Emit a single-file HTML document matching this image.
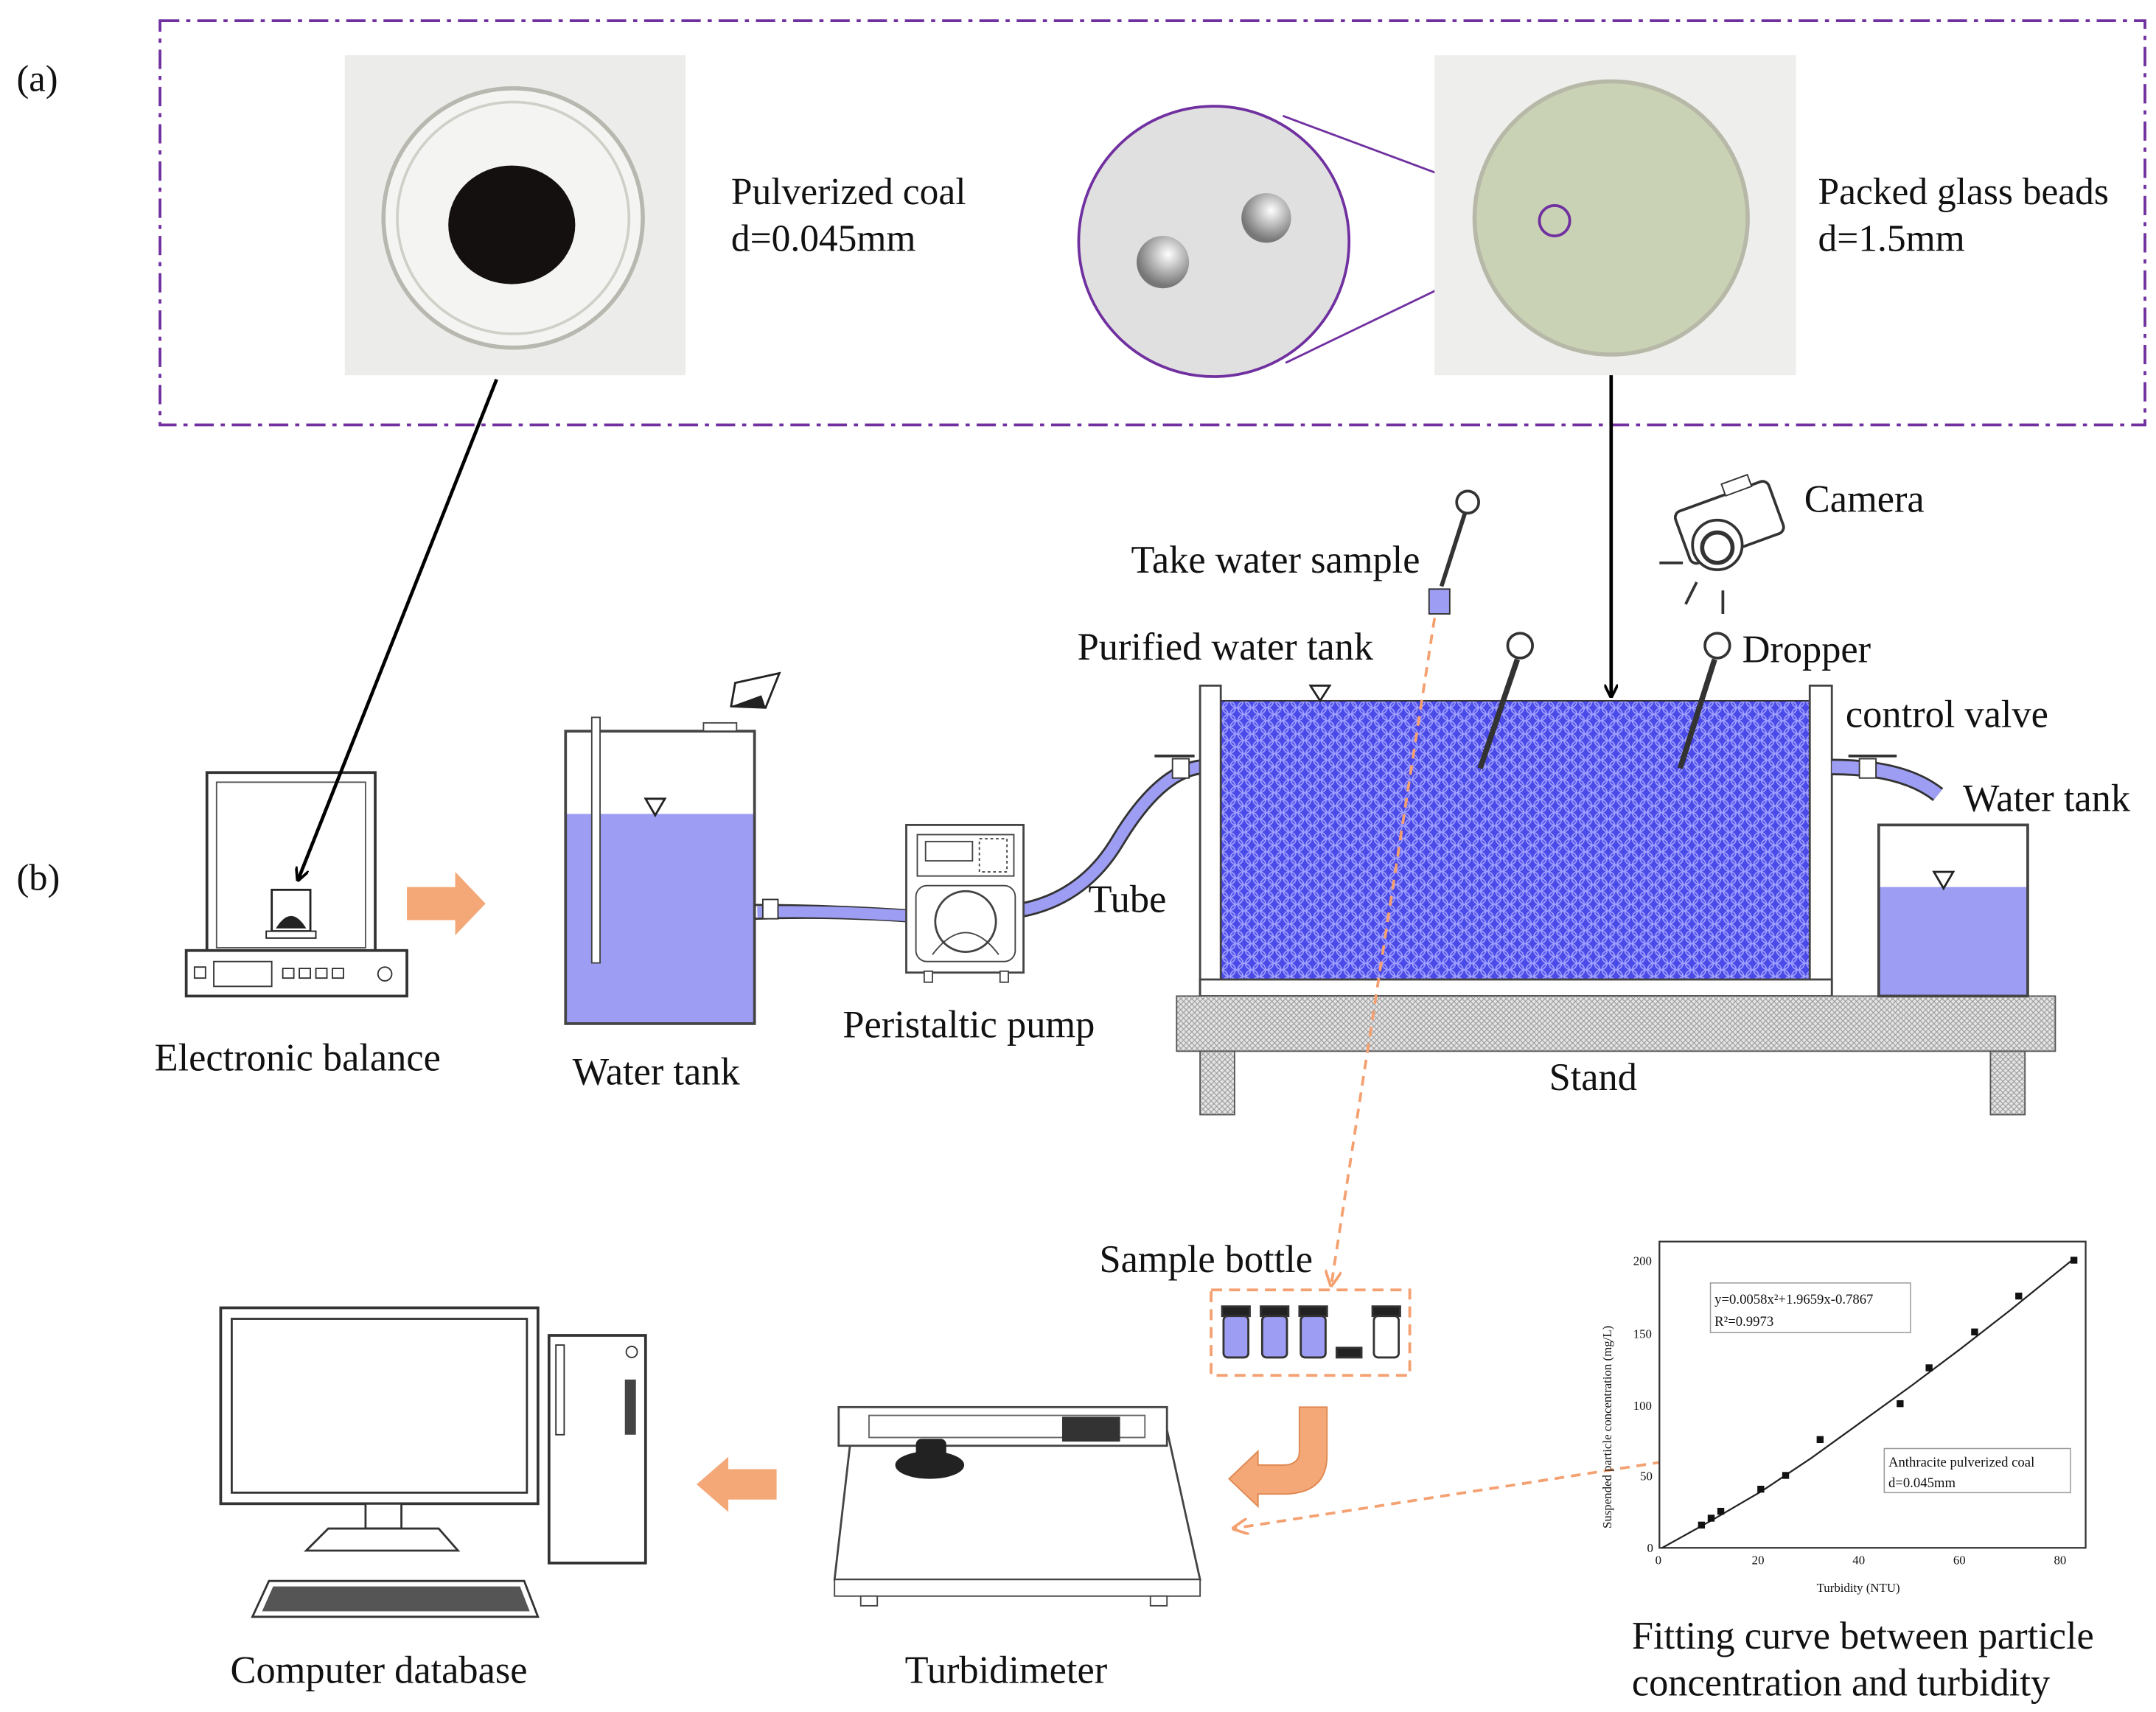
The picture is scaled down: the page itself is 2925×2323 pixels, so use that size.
<!DOCTYPE html>
<html><head><meta charset="utf-8"><style>
html,body{margin:0;padding:0;background:#fff;}
svg{display:block;}
text{font-family:"Liberation Serif",serif;fill:#111;}
</style></head><body>
<svg width="2925" height="2323" viewBox="0 0 1563 1241" preserveAspectRatio="none" xmlns="http://www.w3.org/2000/svg">
<defs>
<pattern id="hex" width="11" height="9.5" patternUnits="userSpaceOnUse">
<rect width="11" height="9.5" fill="#4a4ae8"/>
<circle cx="0" cy="0" r="4.6" fill="none" stroke="#a0a0ff" stroke-width="0.9"/>
<circle cx="11" cy="0" r="4.6" fill="none" stroke="#a0a0ff" stroke-width="0.9"/>
<circle cx="5.5" cy="4.75" r="4.6" fill="none" stroke="#a0a0ff" stroke-width="0.9"/>
<circle cx="0" cy="9.5" r="4.6" fill="none" stroke="#a0a0ff" stroke-width="0.9"/>
<circle cx="11" cy="9.5" r="4.6" fill="none" stroke="#a0a0ff" stroke-width="0.9"/>
</pattern>
<pattern id="hatch" width="4" height="4" patternUnits="userSpaceOnUse">
<rect width="4" height="4" fill="#e4e4e4"/>
<path d="M0 0L4 4M4 0L0 4" stroke="#999" stroke-width="0.6"/>
</pattern>
<marker id="ah" markerWidth="10" markerHeight="10" refX="9" refY="5" orient="auto" markerUnits="userSpaceOnUse"><path d="M0 0L10 5L0 10" fill="none" stroke="#000" stroke-width="2"/></marker>
<marker id="ao" markerWidth="12" markerHeight="12" refX="11" refY="6" orient="auto" markerUnits="userSpaceOnUse"><path d="M0 0L12 6L0 12" fill="none" stroke="#f4a070" stroke-width="2"/></marker>
<radialGradient id="bead" cx="0.6" cy="0.35" r="0.6"><stop offset="0" stop-color="#fff"/><stop offset="1" stop-color="#777"/></radialGradient>
</defs>

<rect x="116" y="15" width="1439" height="293" fill="none" stroke="#7030a0" stroke-width="2" stroke-dasharray="14 5 3 5"/>
<text x="12" y="66" font-size="27">(a)</text>
<text x="12" y="645" font-size="27">(b)</text>

<rect x="250" y="40" width="247" height="232" fill="#ececea"/>
<circle cx="372" cy="158" r="94" fill="#f4f4f2" stroke="#b8b8b0" stroke-width="3"/>
<circle cx="372" cy="158" r="84" fill="none" stroke="#d0d0c8" stroke-width="2"/>
<ellipse cx="371" cy="163" rx="46" ry="43" fill="#151010"/>
<text x="530" y="148" font-size="27.5">Pulverized  coal</text>
<text x="530" y="182" font-size="27.5">d=0.045mm</text>

<line x1="930" y1="84" x2="1118" y2="154" stroke="#7030a0" stroke-width="1.5"/>
<line x1="932" y1="263" x2="1125" y2="170" stroke="#7030a0" stroke-width="1.5"/>
<circle cx="880" cy="175" r="98" fill="#e0e0e0" stroke="#7030a0" stroke-width="2"/>
<circle cx="918" cy="158" r="18" fill="url(#bead)"/>
<circle cx="843" cy="190" r="19" fill="url(#bead)"/>

<rect x="1040" y="40" width="262" height="232" fill="#eeeeec"/>
<circle cx="1168" cy="158" r="99" fill="#c9d2b4" stroke="#b8b8a8" stroke-width="3"/>
<circle cx="1127" cy="160" r="11" fill="none" stroke="#7030a0" stroke-width="2"/>
<text x="1318" y="148" font-size="27.5">Packed glass beads</text>
<text x="1318" y="182" font-size="27.5">d=1.5mm</text>

<line x1="1168" y1="272" x2="1168" y2="505" stroke="#000" stroke-width="2.5" marker-end="url(#ah)"/>

<!-- Balance -->
<rect x="150" y="560" width="122" height="130" fill="#fff" stroke="#333" stroke-width="2"/>
<rect x="157" y="567" width="108" height="120" fill="none" stroke="#555" stroke-width="1"/>
<rect x="197" y="645" width="28" height="30" fill="#fff" stroke="#222" stroke-width="1.5"/>
<path d="M200 673 Q211 655 222 673Z" fill="#222"/>
<rect x="193" y="675" width="36" height="5" fill="#fff" stroke="#222"/>
<rect x="135" y="689" width="160" height="33" fill="#fff" stroke="#333" stroke-width="2"/>
<rect x="155" y="697" width="42" height="18" fill="none" stroke="#333"/>
<rect x="205" y="702" width="8" height="7" fill="none" stroke="#333"/><rect x="217" y="702" width="8" height="7" fill="none" stroke="#333"/><rect x="229" y="702" width="8" height="7" fill="none" stroke="#333"/><rect x="241" y="702" width="8" height="7" fill="none" stroke="#333"/>
<circle cx="279" cy="706" r="5" fill="none" stroke="#333"/>
<rect x="141" y="701" width="8" height="8" fill="none" stroke="#333"/>
<text x="112" y="776" font-size="28">Electronic balance</text>
<line x1="360" y1="275" x2="216" y2="638" stroke="#000" stroke-width="2.5" marker-end="url(#ah)"/>

<path d="M295 643 H330 V632 L352 655 L330 678 V667 H295Z" fill="#f4a878"/>

<!-- water tank left -->
<rect x="410" y="590" width="137" height="152" fill="#9d9df4"/>
<rect x="410" y="530" width="137" height="212" fill="none" stroke="#444" stroke-width="2"/>
<rect x="429" y="520" width="6" height="178" fill="#fff" stroke="#444"/>
<rect x="510" y="524" width="24" height="6" fill="#fff" stroke="#444"/>
<path d="M468 579 H482 L475 591Z" fill="none" stroke="#222" stroke-width="1.5"/>
<path d="M533 495 L565 488 L555 513 L530 512Z" fill="#fff" stroke="#222" stroke-width="1.5"/>
<path d="M530 512 L555 513 L552 504Z" fill="#222"/>
<text x="415" y="786" font-size="28">Water tank</text>

<!-- tubes -->
<path d="M547 656 Q600 656 660 660 M547 666 Q600 664 660 668" fill="none" stroke="#333" stroke-width="1.5"/>
<path d="M549 661 Q600 660 660 664" fill="none" stroke="#9d9df4" stroke-width="8"/>
<rect x="553" y="652" width="11" height="14" fill="#fff" stroke="#333"/>
<path d="M720 662 Q780 660 810 610 Q840 560 870 556" fill="none" stroke="#333" stroke-width="11"/>
<path d="M720 662 Q780 660 810 610 Q840 560 870 556" fill="none" stroke="#9d9df4" stroke-width="8"/>
<rect x="850" y="550" width="12" height="14" fill="#fff" stroke="#333"/>
<path d="M837 548 H866" stroke="#333" stroke-width="2"/>

<!-- pump -->
<rect x="657" y="598" width="85" height="107" fill="#fff" stroke="#444" stroke-width="1.5"/>
<rect x="665" y="605" width="70" height="30" fill="none" stroke="#444"/>
<rect x="671" y="610" width="34" height="14" fill="none" stroke="#444"/>
<rect x="710" y="608" width="20" height="24" fill="none" stroke="#444" stroke-dasharray="2 2"/>
<rect x="664" y="642" width="72" height="55" rx="8" fill="#fff" stroke="#444"/>
<circle cx="700" cy="668" r="22" fill="#fff" stroke="#444" stroke-width="1.5"/>
<path d="M676 692 Q700 660 724 692" fill="none" stroke="#444"/>
<rect x="670" y="704" width="6" height="8" fill="#fff" stroke="#444"/><rect x="725" y="704" width="6" height="8" fill="#fff" stroke="#444"/>
<text x="611" y="752" font-size="28">Peristaltic  pump</text>
<text x="789" y="661" font-size="28">Tube</text>

<!-- main tank -->
<rect x="885" y="508" width="427" height="202" fill="url(#hex)" stroke="#333"/>
<rect x="870" y="497" width="15" height="225" fill="#fff" stroke="#444" stroke-width="1.5"/>
<rect x="1312" y="497" width="16" height="225" fill="#fff" stroke="#444" stroke-width="1.5"/>
<rect x="870" y="710" width="458" height="12" fill="#fff" stroke="#444" stroke-width="1.5"/>
<path d="M950 497 H964 L957 508Z" fill="none" stroke="#222" stroke-width="1.5"/>
<line x1="1100" y1="478" x2="1073" y2="557" stroke="#333" stroke-width="4"/><circle cx="1102" cy="468" r="9" fill="#fff" stroke="#333" stroke-width="2"/>
<line x1="1243" y1="478" x2="1218" y2="557" stroke="#333" stroke-width="4"/><circle cx="1245" cy="468" r="9" fill="#fff" stroke="#333" stroke-width="2"/>
<path d="M1328 556 Q1380 556 1405 576" fill="none" stroke="#333" stroke-width="12"/>
<path d="M1328 556 Q1380 556 1405 576" fill="none" stroke="#9d9df4" stroke-width="9"/>
<rect x="1348" y="550" width="12" height="14" fill="#fff" stroke="#333"/>
<path d="M1340 548 H1375" stroke="#333" stroke-width="2"/>

<rect x="853" y="722" width="637" height="40" fill="url(#hatch)" stroke="#555"/>
<rect x="870" y="762" width="25" height="46" fill="url(#hatch)" stroke="#555"/>
<rect x="1443" y="762" width="25" height="46" fill="url(#hatch)" stroke="#555"/>
<text x="1123" y="790" font-size="28">Stand</text>

<rect x="1362" y="643" width="108" height="79" fill="#9d9df4"/>
<rect x="1362" y="598" width="108" height="124" fill="none" stroke="#444" stroke-width="2"/>
<path d="M1402 632 H1416 L1409 644Z" fill="none" stroke="#222" stroke-width="1.5"/>
<text x="1423" y="588" font-size="28">Water tank</text>
<text x="1338" y="527" font-size="28">control valve</text>
<text x="1263" y="480" font-size="28">Dropper</text>
<text x="781" y="478" font-size="28">Purified  water tank</text>
<text x="820" y="415" font-size="28">Take water sample</text>

<line x1="1062" y1="372" x2="1045" y2="425" stroke="#333" stroke-width="3"/><circle cx="1064" cy="364" r="8" fill="#fff" stroke="#333" stroke-width="2"/>
<rect x="1036" y="427" width="15" height="18" fill="#9d9df4" stroke="#333"/>

<g transform="rotate(-20 1250 380)">
<rect x="1218" y="360" width="72" height="40" rx="5" fill="#fff" stroke="#333" stroke-width="2"/>
<rect x="1258" y="352" width="20" height="9" fill="#fff" stroke="#333"/>
</g>
<circle cx="1245" cy="395" r="18" fill="#fff" stroke="#333" stroke-width="2"/>
<circle cx="1245" cy="397" r="11" fill="#fff" stroke="#333" stroke-width="3"/>
<line x1="1203" y1="408" x2="1220" y2="408" stroke="#333" stroke-width="2"/>
<line x1="1222" y1="438" x2="1230" y2="422" stroke="#333" stroke-width="2"/>
<line x1="1249" y1="428" x2="1249" y2="445" stroke="#333" stroke-width="2"/>
<text x="1308" y="371" font-size="28">Camera</text>

<line x1="1040" y1="448" x2="965" y2="932" stroke="#f4a070" stroke-width="2" stroke-dasharray="7 5" marker-end="url(#ao)"/>
<line x1="1300" y1="1045" x2="894" y2="1108" stroke="#f4a070" stroke-width="2" stroke-dasharray="7 5" marker-end="url(#ao)"/>

<text x="797" y="922" font-size="28">Sample bottle</text>
<rect x="878" y="935" width="144" height="62" fill="none" stroke="#f4a070" stroke-width="2" stroke-dasharray="8 5"/>
<g stroke="#333" stroke-width="1.5">
<rect x="886" y="947" width="20" height="7" fill="#222"/><rect x="887" y="954" width="18" height="30" rx="3" fill="#9d9df4"/>
<rect x="914" y="947" width="20" height="7" fill="#222"/><rect x="915" y="954" width="18" height="30" rx="3" fill="#9d9df4"/>
<rect x="942" y="947" width="20" height="7" fill="#222"/><rect x="943" y="954" width="18" height="30" rx="3" fill="#9d9df4"/>
<rect x="969" y="977" width="18" height="7" fill="#222"/>
<rect x="995" y="947" width="20" height="7" fill="#222"/><rect x="996" y="954" width="18" height="30" rx="3" fill="#fff"/>
</g>

<path d="M942 1020 H962 V1055 Q962 1083 930 1083 H912 V1092 L891 1072 L912 1052 V1062 H930 Q942 1062 942 1052Z" fill="#f4a878" stroke="#e08850" stroke-width="1"/>

<path d="M618 1032 L845 1032 L870 1145 L605 1145Z" fill="#fff" stroke="#444" stroke-width="1.5"/>
<rect x="608" y="1020" width="238" height="28" fill="#fff" stroke="#444" stroke-width="1.5"/>
<rect x="630" y="1026" width="200" height="16" fill="none" stroke="#666"/>
<rect x="770" y="1027" width="42" height="18" fill="#333"/>
<ellipse cx="674" cy="1062" rx="25" ry="10" fill="#222"/>
<rect x="664" y="1043" width="22" height="14" rx="4" fill="#222"/>
<rect x="605" y="1145" width="265" height="12" fill="#fff" stroke="#444"/>
<rect x="624" y="1157" width="12" height="7" fill="#fff" stroke="#444"/><rect x="834" y="1157" width="12" height="7" fill="#fff" stroke="#444"/>
<text x="656" y="1220" font-size="28">Turbidimeter</text>

<path d="M563 1065 H528 V1056 L505 1076 L528 1096 V1087 H563Z" fill="#f4a878"/>

<rect x="160" y="948" width="230" height="142" fill="#fff" stroke="#333" stroke-width="2"/>
<rect x="168" y="956" width="214" height="126" fill="none" stroke="#333" stroke-width="1.5"/>
<rect x="265" y="1090" width="26" height="18" fill="#fff" stroke="#333" stroke-width="1.5"/>
<path d="M238 1108 H318 L332 1124 H222Z" fill="#fff" stroke="#333" stroke-width="1.5"/>
<path d="M195 1146 H380 L390 1172 H183Z" fill="#fff" stroke="#333" stroke-width="1.5"/>
<path d="M198 1150 H377 L384 1168 H190Z" fill="#555"/>
<rect x="398" y="968" width="70" height="165" fill="#fff" stroke="#333" stroke-width="2"/>
<rect x="403" y="975" width="6" height="65" fill="none" stroke="#333"/>
<circle cx="458" cy="980" r="4" fill="none" stroke="#333"/>
<rect x="453" y="1000" width="8" height="40" fill="#444"/>
<text x="167" y="1220" font-size="28">Computer database</text>

<!-- chart -->
<rect x="1203" y="900" width="309" height="222" fill="#fff" stroke="#333" stroke-width="1.2"/>
<g font-size="9">
<text x="1184" y="917">200</text><text x="1184" y="970">150</text><text x="1184" y="1022">100</text><text x="1189" y="1073">50</text><text x="1194" y="1125">0</text>
<text x="1200" y="1134">0</text><text x="1270" y="1134">20</text><text x="1343" y="1134">40</text><text x="1416" y="1134">60</text><text x="1489" y="1134">80</text>
<text x="1317" y="1154">Turbidity (NTU)</text>
<text transform="translate(1168 1108) rotate(-90)" x="0" y="0">Suspended particle concentration (mg/L)</text>
</g>
<rect x="1240" y="930" width="145" height="36" fill="#fff" stroke="#999" stroke-width="0.8"/>
<text x="1243" y="945" font-size="10">y=0.0058x²+1.9659x-0.7867</text>
<text x="1243" y="961" font-size="10">R²=0.9973</text>
<rect x="1366" y="1050" width="135" height="32" fill="#fff" stroke="#999" stroke-width="0.8"/>
<text x="1369" y="1063" font-size="10">Anthracite pulverized coal</text>
<text x="1369" y="1078" font-size="10">d=0.045mm</text>
<polyline points="1205,1122 1241,1102 1277,1081 1313,1057 1349,1031 1385,1005 1421,978 1457,950 1504,912" fill="none" stroke="#222" stroke-width="1.2"/>
<g fill="#111">
<rect x="1231" y="1103" width="5" height="5"/><rect x="1238" y="1098" width="5" height="5"/><rect x="1245" y="1093" width="5" height="5"/><rect x="1274" y="1077" width="5" height="5"/><rect x="1292" y="1067" width="5" height="5"/><rect x="1317" y="1041" width="5" height="5"/><rect x="1375" y="1015" width="5" height="5"/><rect x="1396" y="989" width="5" height="5"/><rect x="1429" y="963" width="5" height="5"/><rect x="1461" y="937" width="5" height="5"/><rect x="1501" y="911" width="5" height="5"/>
</g>
<text x="1183" y="1195" font-size="28">Fitting  curve between particle</text>
<text x="1183" y="1229" font-size="28">concentration and turbidity</text>
</svg>
</body></html>
